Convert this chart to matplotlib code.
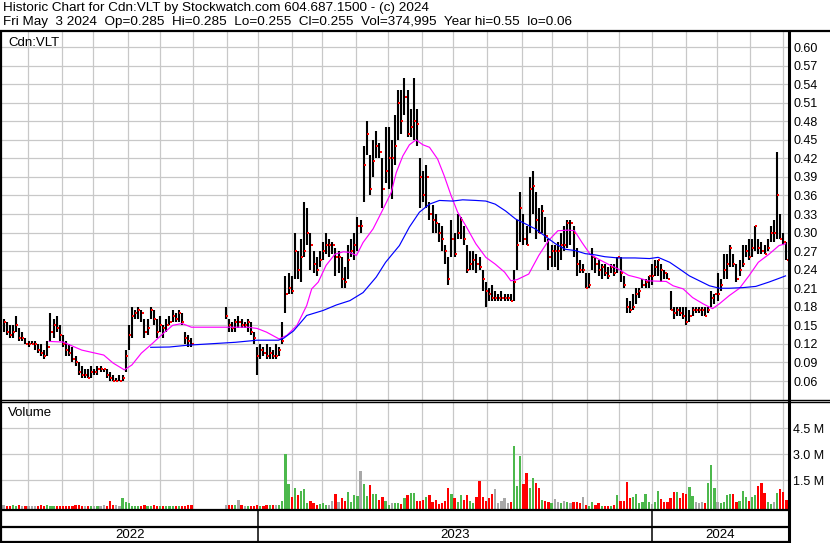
import numpy as np
import matplotlib
matplotlib.use('Agg')
from matplotlib import pyplot as plt

nan = np.nan

# one entry ~ 2 trading days, May 2022 .. May 3 2024 (NaN = no trades)
high = [.16, .155, .15, .15, .165, .145, .14, .13, .125, .125,
        .125, .12, .12, .11, .125, .17, .16, .165, .15, .135,
        .125, .12, .115, .10, .09, .085, .08, .08, .085, .08,
        .085, .085, .08, .08, .075, .07, .065, .07, .07, .11,
        .15, .18, .175, .18, .175, .16, .16, .18, .175, .16,
        .165, .15, .16, .165, .175, .17, .175, .17, .14, .135,
        .13, nan, nan, nan, nan, nan, nan, nan, nan, nan,
        nan, .18, .16, .155, .16, .165, .16, .155, .16, .155,
        .14, .115, .12, .115, .12, .115, .11, .12, .115, .155,
        .23, .235, .23, .30, .27, .29, .35, .34, .30, .27,
        .26, .27, .285, .30, .29, .285, .275, .27, .26, .245,
        .28, .29, .30, .325, .32, .44, .48, .425, .45, .465,
        .445, .42, .47, .47, .45, .49, .53, .53, .55, .53,
        .50, .55, .50, .42, .40, .41, .35, .345, .33, .315,
        .31, .28, .26, .32, .30, .33, .325, .31, .28, .27,
        .27, .265, .26, .24, .22, .21, .215, .205, .20, .205,
        .20, .20, .20, .24, .32, .365, .33, .31, .39, .40,
        .365, .34, .345, .325, .29, .28, .28, .285, .30, .31,
        .32, .32, .31, .275, .255, .25, .235, .235, .275, .26,
        .255, .25, .25, .245, .25, .25, .26, .26, .23, .195,
        .19, .20, .21, .21, .225, .225, .23, .25, .255, .255,
        .25, .24, .235, .205, .18, .18, .18, .18, .18, .175,
        .18, .18, .18, .18, .18, .18, .205, .20, .235, .225,
        .265, .265, .28, .265, .25, .255, .28, .28, .29, .29,
        .31, .29, .285, .28, .29, .31, .32, .43, .33, .30,
        .285]

low = [.14, .135, .13, .13, .14, .125, .125, .12, .115, .12,
       .11, .105, .10, .095, .10, .125, .13, .14, .125, .115,
       .10, .10, .09, .085, .07, .065, .065, .065, .065, .07,
       .07, .075, .075, .065, .06, .06, .06, .06, .06, .075,
       .11, .13, .16, .16, .155, .13, .135, .16, .15, .13,
       .14, .13, .14, .15, .155, .155, .155, .15, .12, .115,
       .115, nan, nan, nan, nan, nan, nan, nan, nan, nan,
       nan, .16, .14, .14, .14, .145, .145, .145, .14, .135,
       .12, .07, .095, .10, .095, .095, .095, .095, .10, .12,
       .17, .20, .20, .225, .225, .22, .26, .28, .24, .235,
       .23, .245, .255, .265, .26, .265, .23, .235, .21, .21,
       .225, .26, .255, .27, .30, .35, .425, .36, .39, .42,
       .42, .34, .38, .37, .355, .41, .45, .46, .49, .455,
       .455, .45, .44, .34, .35, .34, .32, .30, .30, .285,
       .27, .25, .215, .26, .26, .29, .29, .28, .235, .24,
       .24, .235, .24, .205, .18, .19, .19, .19, .19, .19,
       .19, .19, .19, .19, .24, .285, .28, .28, .30, .33,
       .29, .30, .30, .285, .24, .245, .245, .24, .255, .27,
       .275, .28, .26, .23, .235, .235, .21, .21, .24, .235,
       .23, .225, .23, .225, .235, .23, .235, .22, .21, .17,
       .17, .175, .185, .195, .21, .21, .21, .215, .23, .23,
       .22, .225, .225, .175, .16, .165, .165, .16, .15, .155,
       .165, .17, .17, .165, .165, .17, .18, .185, .19, .205,
       .225, .225, .245, .245, .22, .23, .245, .26, .255, .26,
       .27, .265, .265, .265, .27, .285, .285, .29, .29, .28,
       .255]

close = [.155, .14, .135, .14, .15, .13, .13, .12, .12, .12,
         .12, .11, .105, .10, .115, .14, .15, .145, .135, .12,
         .11, .105, .095, .09, .075, .07, .07, .065, .075, .075,
         .08, .08, .08, .07, .065, .06, .06, .06, .065, .10,
         .135, .165, .17, .175, .17, .14, .145, .175, .16, .14,
         .15, .145, .15, .155, .165, .16, .17, .155, .13, .125,
         .12, nan, nan, nan, nan, nan, nan, nan, nan, nan,
         nan, .165, .15, .145, .155, .155, .15, .15, .155, .14,
         .13, .10, .11, .105, .10, .105, .10, .10, .11, .125,
         .20, .21, .205, .27, .24, .26, .27, .30, .28, .25,
         .24, .255, .27, .28, .28, .28, .26, .26, .225, .22,
         .255, .27, .28, .31, .31, .41, .46, .37, .415, .44,
         .43, .37, .40, .42, .42, .44, .51, .48, .52, .46,
         .47, .48, .475, .39, .36, .39, .33, .32, .315, .30,
         .29, .27, .225, .29, .265, .30, .32, .29, .24, .25,
         .255, .25, .245, .225, .205, .20, .195, .195, .195, .195,
         .195, .195, .19, .22, .28, .34, .29, .28, .37, .375,
         .32, .30, .335, .295, .26, .27, .27, .27, .28, .28,
         .315, .315, .30, .25, .24, .24, .21, .215, .26, .25,
         .24, .245, .235, .23, .245, .235, .26, .235, .215, .18,
         .175, .18, .20, .205, .215, .22, .23, .23, .245, .255,
         .24, .235, .225, .175, .17, .175, .17, .165, .155, .165,
         .175, .175, .175, .175, .165, .175, .195, .20, .20, .215,
         .24, .25, .275, .25, .225, .24, .25, .27, .26, .275,
         .31, .275, .27, .265, .275, .30, .30, .36, .29, .285,
         .255]

# volume, thousands of shares
volume_k = [60, 40, 30, 80, 30, 70, 30, 20, 20, 15,
            20, 20, 50, 20, 50, 30, 20, 20, 20, 20,
            40, 30, 20, 50, 50, 20, 20, 20, 20, 20,
            20, 20, 60, 20, 300, 60, 50, 30, 500, 250,
            200, 40, 30, 40, 20, 60, 40, 30, 50, 30,
            20, 20, 30, 20, 20, 20, 30, 20, 20, 60,
            50, nan, nan, nan, nan, nan, nan, nan, nan, nan,
            nan, 80, 60, 80, 50, 350, 80, 30, 30, 30,
            40, 50, 30, 30, 50, 60, 60, 80, 80, 300,
            3000, 1270, 550, 1040, 650, 900, 1000, 200, 300, 200,
            100, 150, 200, 100, 100, 300, 700, 250, 500, 300,
            850, 250, 650, 600, 2050, 1270, 600, 1230, 700, 700,
            350, 550, 300, 100, 200, 200, 200, 150, 500, 650,
            750, 750, 300, 300, 350, 550, 650, 260, 350, 150,
            170, 300, 1040, 700, 500, 260, 650, 350, 650, 300,
            170, 550, 1450, 550, 300, 500, 700, 980, 170, 300,
            450, 170, 230, 3480, 1190, 2900, 1270, 1900, 1040, 1650,
            1370, 1040, 370, 300, 270, 200, 400, 270, 200, 300,
            270, 200, 220, 270, 200, 560, 60, 30, 230, 100,
            170, 30, 30, 30, 30, 80, 650, 300, 300, 1380,
            500, 560, 700, 170, 230, 700, 230, 120, 270, 880,
            400, 230, 270, 500, 820, 810, 500, 750, 690, 1130,
            620, 230, 170, 230, 200, 1330, 2400, 1040, 270, 170,
            270, 640, 690, 690, 270, 300, 900, 560, 300, 560,
            650, 1190, 1330, 750, 270, 130, 270, 750, 1000, 850,
            375]

# moving averages as drawn (bar index, price)
fast_ma_at = [14.6, 19, 25, 32, 35, 38.6, 41, 44, 47.6, 51, 54, 57, 60, 72, 78,
              81, 84, 88, 90.5, 93.7, 96.8, 98.4, 100.5, 103, 105.8, 108.5,
              110.5, 112.7, 114.8, 118, 121, 123.8, 125.4, 127.5, 129.6, 131.7,
              133.9, 136, 138.6, 140.7, 142.9, 145, 147.6, 150.8, 154, 157, 160,
              162, 164, 167.7, 170.9, 174, 177, 180.4, 182.3, 184.7, 187.3, 190,
              193, 196.3, 199.5, 202.6, 205.8, 211.6, 213.8, 217, 220, 223.3,
              226.4, 228.6, 231.7, 235, 238, 241, 244.4, 247.6, 249.7]
fast_ma = [.124, .123, .11, .102, .089, .078, .086, .105, .121, .137, .15, .153,
           .147, .147, .147, .145, .139, .128, .134, .15, .182, .209, .22, .247,
           .265, .269, .268, .263, .284, .306, .336, .365, .397, .424, .442, .45,
           .442, .438, .419, .392, .36, .333, .311, .282, .26, .249, .236, .222,
           .224, .233, .263, .287, .303, .304, .303, .284, .265, .257, .249, .241,
           .231, .227, .222, .221, .214, .209, .195, .185, .177, .185, .198, .21,
           .23, .252, .265, .279, .282]
slow_ma_at = [47, 53, 59, 74, 81, 87.8, 89.4, 92.6, 96.8, 102, 106.3, 110.6, 114.8,
              119, 122, 123.3, 126.4, 129.6, 132.8, 136, 139.2, 143.4, 146.6,
              150.8, 154, 157, 160.3, 163.5, 166.7, 169.8, 173, 176.2, 179.4,
              182.5, 185.7, 188.9, 192, 196.3, 201.6, 206.3, 209, 212.7, 215.9,
              219, 222.2, 225.4, 228.6, 231.7, 236, 240.2, 244.4, 247.6, 249.7]
slow_ma = [.1145, .115, .118, .1226, .126, .126, .129, .141, .166, .174, .183, .19,
           .203, .228, .252, .26, .279, .309, .333, .346, .352, .351, .353, .352,
           .351, .346, .335, .322, .314, .306, .294, .282, .273, .271, .266, .264,
           .261, .259, .259, .258, .26, .252, .241, .23, .222, .214, .21, .21,
           .211, .213, .22, .226, .23]

# month boundaries and years (bar units)
month_breaks = [7.8, 18.7, 28.6, 39.8, 50.0, 60.5, 71.4, 81.3, 92.1, 101.7, 112.5,
                122.8, 133.6, 143.5, 154.4, 165.5, 175.1, 186.3, 196.5, 207.0,
                217.9, 227.8, 238.3, 248.9]
year_breaks = [81.3, 207.0]
years = ['2022', '2023', '2024']
price_ticks = [0.06, 0.09, 0.12, 0.15, 0.18, 0.21, 0.24, 0.27, 0.30, 0.33,
               0.36, 0.39, 0.42, 0.45, 0.48, 0.51, 0.54, 0.57, 0.60]
vol_ticks = [1.5, 3.0, 4.5]

title1 = 'Historic Chart for Cdn:VLT by Stockwatch.com 604.687.1500 - (c) 2024'
title2 = ('Fri May  3 2024  Op=0.285  Hi=0.285  Lo=0.255  Cl=0.255  '
          'Vol=374,995  Year hi=0.55  lo=0.06')

plt.rcParams['font.family'] = ['Liberation Sans', 'DejaVu Sans']
FS = 9
GRID = '#c8c8c8'
W, H = 830, 543

high = np.array(high)
low = np.array(low)
close = np.array(close)
vol = np.array(volume_k) / 1000.0
idx = np.arange(len(close))
XL = (-0.48, len(close) - 1 + 0.48)


def box(px_left, px_top, px_right, px_bottom):
    return [px_left / W, 1 - px_bottom / H, (px_right - px_left) / W, (px_bottom - px_top) / H]


fig = plt.figure(figsize=(W / 100, H / 100), dpi=100)
fig.patch.set_facecolor('white')

# price panel
pax = fig.add_axes(box(2, 31, 788, 400))
pax.set_xlim(*XL)
pax.set_ylim(0.0293, 0.626)
for m in month_breaks:
    pax.axvline(m, color=GRID, lw=0.9, zorder=0)
for t in price_ticks:
    pax.axhline(t, color=GRID, lw=0.9, zorder=0)
ok = ~np.isnan(close)
pax.vlines(idx[ok], low[ok], high[ok], color='black', lw=1.5, zorder=2)
pax.plot(idx[ok] + 0.38, close[ok], 's', color='red', ms=2.1, mew=0, zorder=3)
pax.plot(fast_ma_at, fast_ma, color='#ff00ff', lw=0.85, zorder=4)
pax.plot(slow_ma_at, slow_ma, color='#0000ff', lw=0.85, zorder=4)
pax.yaxis.tick_right()
pax.set_yticks(price_ticks)
pax.set_yticklabels(['%.2f' % t for t in price_ticks])
pax.tick_params(axis='y', length=0, pad=3.6, labelsize=FS)
pax.set_xticks([])
for s in pax.spines.values():
    s.set_visible(False)
pax.text(0.008, 0.967, 'Cdn:VLT', transform=pax.transAxes, fontsize=FS + 0.5, va='center')

# volume panel
base = -0.16
vax = fig.add_axes(box(2, 402, 788, 509))
vax.set_xlim(*XL)
vax.set_ylim(base, 6.03)
for m in month_breaks:
    vax.axvline(m, color=GRID, lw=0.9, zorder=0)
for t in vol_ticks:
    vax.axhline(t, color=GRID, lw=0.9, zorder=0)
prev = np.concatenate([[np.nan], close[:-1]])
cols = []
for c, p in zip(close, prev):
    if np.isnan(c) or np.isnan(p) or c == p:
        cols.append('#a8a8a8')
    elif c > p:
        cols.append('#4cb84c')
    else:
        cols.append('#ff0000')
vok = ~np.isnan(vol)
vax.bar(idx[vok], vol[vok] - base, bottom=base, width=0.72,
        color=np.array(cols)[vok], linewidth=0, zorder=2)
vax.yaxis.tick_right()
vax.set_yticks(vol_ticks)
vax.set_yticklabels(['%.1f M' % t for t in vol_ticks])
vax.tick_params(axis='y', length=0, pad=3.6, labelsize=FS)
vax.set_xticks([])
for s in vax.spines.values():
    s.set_visible(False)
vax.text(0.008, 0.9, 'Volume', transform=vax.transAxes, fontsize=FS + 0.5, va='center')

# date rows
dax = fig.add_axes(box(2, 509, 788, 541))
dax.set_xlim(*XL)
dax.set_ylim(0, 1)
dax.axis('off')
edges = [XL[0]] + year_breaks + [XL[1]]
for i, y in enumerate(years):
    dax.text((edges[i] + edges[i + 1]) / 2, 0.2, y, fontsize=FS + 0.5, ha='center', va='center')
for b in year_breaks:
    dax.axvline(b, color='black', lw=1.1)

# frame lines in pixel space
ov = fig.add_axes([0, 0, 1, 1], zorder=10)
ov.set_xlim(0, W)
ov.set_ylim(H, 0)
ov.axis('off')
ov.patch.set_alpha(0)
k = dict(color='black', solid_capstyle='butt')
ov.plot([0, W], [30.5, 30.5], lw=1.6, **k)
ov.plot([0, W], [399.8, 399.8], lw=1.0, **k)
ov.plot([0, W], [401.8, 401.8], lw=1.0, **k)
ov.plot([0, 789], [509.5, 509.5], lw=1.6, **k)
ov.plot([0, 789], [527, 527], lw=1.6, **k)
ov.plot([0, 789], [541.5, 541.5], lw=1.6, **k)
ov.plot([1, 1], [30, 543], lw=1.6, **k)
ov.plot([788.5, 788.5], [30, 543], lw=2.2, **k)
ov.text(3, 8, title1, fontsize=9.7, va='center')
ov.text(3, 22, title2, fontsize=9.7, va='center')

fig.savefig('out.png', dpi=100)
